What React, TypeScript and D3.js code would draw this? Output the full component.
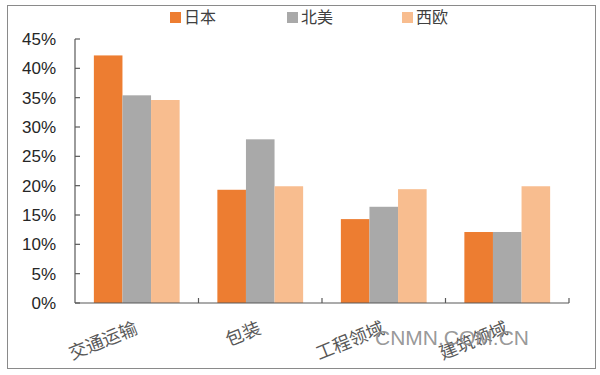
import * as React from "react";
import * as d3 from "d3";

const categories = ["交通运输", "包装", "工程领域", "建筑领域"];
const seriesNames = ["日本", "北美", "西欧"];
const japan = [42.2, 19.3, 14.3, 12.1];
const northAmerica = [35.4, 27.9, 16.4, 12.1];
const westEurope = [34.6, 19.9, 19.4, 19.9];
const yTicks = [0, 5, 10, 15, 20, 25, 30, 35, 40, 45];
const colors = ["#ED7D31", "#A9A9A9", "#F8BD8F"];

const W = 600;
const H = 375;
const plot = { left: 75, right: 569, top: 39, bottom: 303 };

const App = () => {
  const series = [japan, northAmerica, westEurope];

  const x = d3.scaleBand().domain(categories).range([plot.left, plot.right]).paddingInner(0).paddingOuter(0);
  const inner = d3
    .scaleBand()
    .domain(seriesNames)
    .range([0, x.bandwidth()])
    .paddingOuter(0.66)
    .paddingInner(0);
  const y = d3.scaleLinear().domain([0, 45]).range([plot.bottom, plot.top]);

  const legendX = [170, 287, 402];
  const font = "'Noto Sans CJK SC', sans-serif";

  return (
    <svg
      width={W}
      height={H}
      viewBox={`0 0 ${W} ${H}`}
      style={{ position: "absolute", left: 0, top: 0, background: "#fff", display: "block" }}
    >
      <rect x={7.5} y={5.5} width={588} height={363} fill="#fff" stroke="#8a8a8a" strokeWidth={1} />

      {/* legend */}
      {seriesNames.map((name, i) => (
        <g key={name}>
          <rect x={legendX[i]} y={12} width={11} height={11} fill={colors[i]} />
          <text
            x={legendX[i] + 14}
            y={23}
            fontSize={16}
            fill="#404040"
            fontFamily={font}
          >
            {name}
          </text>
        </g>
      ))}

      {/* bars */}
      {categories.map((cat, ci) => (
        <g key={cat} transform={`translate(${x(cat)},0)`}>
          {series.map((vals, si) => (
            <rect
              key={si}
              x={inner(seriesNames[si])}
              y={y(vals[ci])}
              width={inner.bandwidth()}
              height={plot.bottom - y(vals[ci])}
              fill={colors[si]}
            />
          ))}
        </g>
      ))}

      {/* y axis */}
      <line x1={plot.left} x2={plot.left} y1={plot.top} y2={plot.bottom} stroke="#595959" strokeWidth={1.2} />
      {yTicks.map((t) => (
        <g key={t}>
          <line x1={plot.left} x2={plot.left + 5} y1={y(t)} y2={y(t)} stroke="#595959" strokeWidth={1.2} />
          <text
            x={56}
            y={y(t)}
            dy="0.35em"
            textAnchor="end"
            fontSize={17}
            fill="#262626"
            fontFamily="'Liberation Sans', Arial, sans-serif"
          >
            {t}%
          </text>
        </g>
      ))}

      {/* x axis */}
      <line x1={plot.left} x2={plot.right} y1={plot.bottom} y2={plot.bottom} stroke="#595959" strokeWidth={1.2} />
      {categories.map((cat) => {
        const bx = (x(cat) ?? 0) + x.bandwidth();
        return <line key={cat} x1={bx} x2={bx} y1={plot.bottom} y2={plot.bottom - 5} stroke="#595959" strokeWidth={1.2} />;
      })}
      {categories.map((cat) => {
        const cx = (x(cat) ?? 0) + x.bandwidth() / 2 + 2;
        return (
          <text
            key={cat}
            x={cx}
            y={333}
            textAnchor="end"
            transform={`rotate(-22, ${cx}, 333)`}
            fontSize={18}
            fill="#595959"
            fontFamily={font}
          >
            {cat}
          </text>
        );
      })}

      {/* watermark */}
      <text
        x={375}
        y={345}
        fontSize={21}
        fill="#8c8c8c"
        fillOpacity={0.9}
        fontFamily="'Liberation Sans', Arial, sans-serif"
      >
        CNMN.COM.CN
      </text>
    </svg>
  );
};

export default App;
